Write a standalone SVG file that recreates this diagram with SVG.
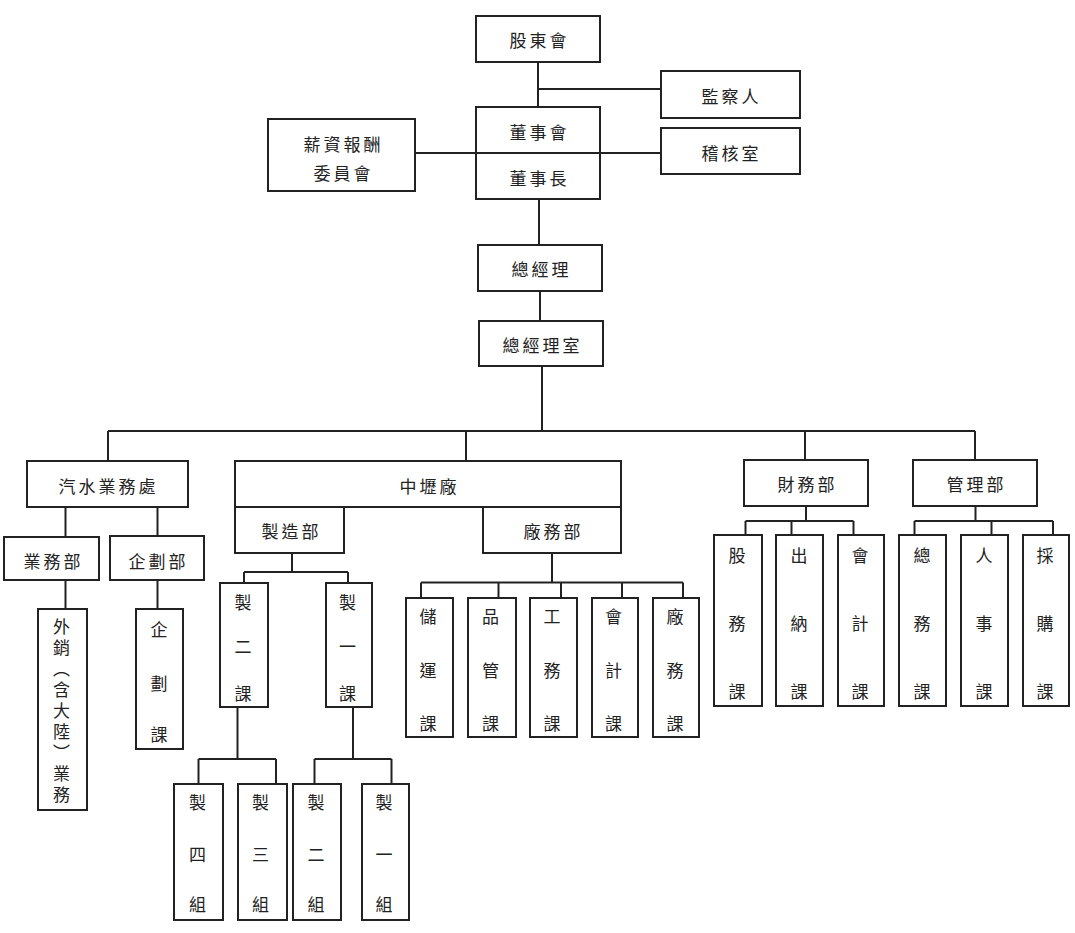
<svg xmlns="http://www.w3.org/2000/svg" width="1075" height="933" viewBox="0 0 1075 933">
<style>
.bg{fill:#ffffff}
.box{fill:none;stroke:#222;stroke-width:2}
.ln{fill:none;stroke:#222;stroke-width:2}
text{font-family:"Noto Sans CJK TC","Noto Sans CJK SC",sans-serif;font-size:17px;fill:#222;dominant-baseline:central}
.h{text-anchor:middle;letter-spacing:3px}
.v{text-anchor:middle}
.vt{writing-mode:vertical-rl;text-anchor:start;letter-spacing:4px}
</style>
<rect class="bg" x="0" y="0" width="1075" height="933"/>
<g id="connectors">
<path class="ln" d="M538,62V107 M538,89H661 M415,153H476 M600,153H661 M539,199V245 M540,291V321 M542,366V431"/>
<path class="ln" d="M108,431H975 M108,431V461 M466,431V461 M805,431V460 M975,431V460"/>
<path class="ln" d="M65.5,507V537 M157.5,507V536 M65.5,580V609 M157.5,580V609"/>
<path class="ln" d="M292,553V572 M244,572H348 M244,572V583 M348,572V583"/>
<path class="ln" d="M237.5,707V759 M198.5,759H276 M198.5,759V784 M276,759V784"/>
<path class="ln" d="M353,707V759 M314.5,759H391.5 M314.5,759V784 M391.5,759V784"/>
<path class="ln" d="M552,553V582.5 M421,582.5H683 M421,582.5V598 M498.5,582.5V598 M561,582.5V598 M622,582.5V598 M683,582.5V598"/>
<path class="ln" d="M806,506V521 M745.5,521H853.5 M745.5,521V535 M791.5,521V535 M853.5,521V535"/>
<path class="ln" d="M975.5,506V521 M914.5,521H1053 M914.5,521V535 M991.5,521V535 M1053,521V535"/>
</g>
<g id="n-gudong"><rect class="box" x="476" y="16" width="124" height="46"/><text class="h" x="539.5" y="39.5">股東會</text></g>
<g id="n-jiancha"><rect class="box" x="661" y="71" width="139" height="47"/><text class="h" x="731.5" y="95.5">監察人</text></g>
<g id="n-dongshi"><rect class="box" x="476" y="107" width="124" height="92"/><line class="ln" x1="476" y1="153" x2="600" y2="153"/><text class="h" x="539.5" y="131">董事會</text><text class="h" x="539.5" y="177">董事長</text></g>
<g id="n-jihe"><rect class="box" x="661" y="128" width="139" height="46"/><text class="h" x="731.5" y="152">稽核室</text></g>
<g id="n-xinzi"><rect class="box" x="268" y="119" width="147" height="72"/><text class="h" x="343.5" y="143">薪資報酬</text><text class="h" x="343.5" y="172">委員會</text></g>
<g id="n-zongjingli"><rect class="box" x="478" y="245" width="124" height="46"/><text class="h" x="541.5" y="268">總經理</text></g>
<g id="n-zongjinglishi"><rect class="box" x="479" y="321" width="124" height="45"/><text class="h" x="542.5" y="344">總經理室</text></g>
<g id="n-qishui"><rect class="box" x="27" y="461" width="161" height="46"/><text class="h" x="108.5" y="485">汽水業務處</text></g>
<g id="n-zhongli"><rect class="box" x="235" y="461" width="386" height="46"/><text class="h" x="429.5" y="485">中壢廠</text></g>
<g id="n-caiwu"><rect class="box" x="744" y="460" width="124" height="46"/><text class="h" x="807.5" y="483">財務部</text></g>
<g id="n-guanli"><rect class="box" x="913" y="460" width="124" height="46"/><text class="h" x="976.5" y="483">管理部</text></g>
<g id="n-zhizao"><rect class="box" x="235" y="507" width="109" height="46"/><text class="h" x="291.5" y="530">製造部</text></g>
<g id="n-changwubu"><rect class="box" x="483" y="507" width="138" height="46"/><text class="h" x="553.5" y="530">廠務部</text></g>
<g id="n-yewu"><rect class="box" x="4" y="537" width="95" height="43"/><text class="h" x="53.5" y="560">業務部</text></g>
<g id="n-qihua"><rect class="box" x="110" y="536" width="94" height="44"/><text class="h" x="158.5" y="560">企劃部</text></g>
<g id="n-waixiao"><rect class="box" x="38" y="609" width="49" height="201"/><text class="vt" x="61.5" y="618.5">外銷（含大陸）業務</text></g>
<g id="n-qihuake"><rect class="box" x="136" y="609" width="47" height="140"/><text class="v"><tspan x="159" y="628">企</tspan><tspan x="159" y="682">劃</tspan><tspan x="159" y="733">課</tspan></text></g>
<g id="n-zhi2ke"><rect class="box" x="220" y="583" width="48" height="124"/><text class="v"><tspan x="243" y="601">製</tspan><tspan x="243" y="645">二</tspan><tspan x="243" y="692">課</tspan></text></g>
<g id="n-zhi1ke"><rect class="box" x="326" y="583" width="46" height="124"/><text class="v"><tspan x="347.5" y="601">製</tspan><tspan x="347.5" y="645">一</tspan><tspan x="347.5" y="692">課</tspan></text></g>
<g id="n-zhi4zu"><rect class="box" x="174" y="784" width="49" height="136"/><text class="v"><tspan x="197.5" y="801">製</tspan><tspan x="197.5" y="853">四</tspan><tspan x="197.5" y="903">組</tspan></text></g>
<g id="n-zhi3zu"><rect class="box" x="238" y="784" width="49" height="136"/><text class="v"><tspan x="260.5" y="801">製</tspan><tspan x="260.5" y="853">三</tspan><tspan x="260.5" y="903">組</tspan></text></g>
<g id="n-zhi2zu"><rect class="box" x="293" y="784" width="48" height="136"/><text class="v"><tspan x="316" y="801">製</tspan><tspan x="316" y="853">二</tspan><tspan x="316" y="903">組</tspan></text></g>
<g id="n-zhi1zu"><rect class="box" x="362" y="784" width="47" height="136"/><text class="v"><tspan x="384" y="801">製</tspan><tspan x="384" y="853">一</tspan><tspan x="384" y="903">組</tspan></text></g>
<g id="n-chuyun"><rect class="box" x="406" y="598" width="47" height="139"/><text class="v"><tspan x="428" y="615">儲</tspan><tspan x="428" y="669">運</tspan><tspan x="428" y="722">課</tspan></text></g>
<g id="n-pinguan"><rect class="box" x="468" y="598" width="48" height="139"/><text class="v"><tspan x="490.5" y="615">品</tspan><tspan x="490.5" y="669">管</tspan><tspan x="490.5" y="722">課</tspan></text></g>
<g id="n-gongwu"><rect class="box" x="530" y="598" width="47" height="139"/><text class="v"><tspan x="552" y="615">工</tspan><tspan x="552" y="669">務</tspan><tspan x="552" y="722">課</tspan></text></g>
<g id="n-kuaiji1"><rect class="box" x="592" y="598" width="46" height="139"/><text class="v"><tspan x="613.5" y="615">會</tspan><tspan x="613.5" y="669">計</tspan><tspan x="613.5" y="722">課</tspan></text></g>
<g id="n-changwuke"><rect class="box" x="653" y="598" width="46" height="139"/><text class="v"><tspan x="675" y="615">廠</tspan><tspan x="675" y="669">務</tspan><tspan x="675" y="722">課</tspan></text></g>
<g id="n-guwu"><rect class="box" x="714" y="535" width="48" height="171"/><text class="v"><tspan x="737" y="554">股</tspan><tspan x="737" y="622">務</tspan><tspan x="737" y="690">課</tspan></text></g>
<g id="n-chuna"><rect class="box" x="776" y="535" width="47" height="171"/><text class="v"><tspan x="799" y="554">出</tspan><tspan x="799" y="622">納</tspan><tspan x="799" y="690">課</tspan></text></g>
<g id="n-kuaiji2"><rect class="box" x="838" y="535" width="46" height="171"/><text class="v"><tspan x="860" y="554">會</tspan><tspan x="860" y="622">計</tspan><tspan x="860" y="690">課</tspan></text></g>
<g id="n-zongwu"><rect class="box" x="899" y="535" width="47" height="171"/><text class="v"><tspan x="922" y="554">總</tspan><tspan x="922" y="622">務</tspan><tspan x="922" y="690">課</tspan></text></g>
<g id="n-renshi"><rect class="box" x="961" y="535" width="47" height="171"/><text class="v"><tspan x="984" y="554">人</tspan><tspan x="984" y="622">事</tspan><tspan x="984" y="690">課</tspan></text></g>
<g id="n-caigou"><rect class="box" x="1023" y="535" width="46" height="171"/><text class="v"><tspan x="1045" y="554">採</tspan><tspan x="1045" y="622">購</tspan><tspan x="1045" y="690">課</tspan></text></g>
</svg>
